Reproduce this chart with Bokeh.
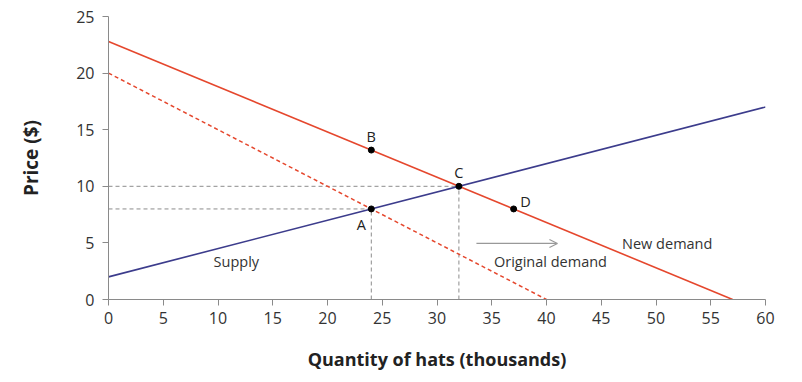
from bokeh.plotting import figure
from bokeh.models import Range1d, FixedTicker, Arrow, OpenHead, ColumnDataSource
from bokeh.core.properties import value
from bokeh.embed import file_html
from bokeh.resources import INLINE

# Data
supply_q = [0, 60]
supply_p = [2, 17]
orig_demand_q = [0, 40]
orig_demand_p = [20, 0]
new_demand_q = [0, 57]
new_demand_p = [22.8, 0]
point_names = ["A", "B", "C", "D"]
point_q = [24, 24, 32, 37]
point_p = [8, 13.2, 10, 8]
x_ticks = [0, 5, 10, 15, 20, 25, 30, 35, 40, 45, 50, 55, 60]
y_ticks = [0, 5, 10, 15, 20, 25]

FONT = "Open Sans"
p = figure(width=786, height=374, output_backend="svg", toolbar_location=None,
           x_range=Range1d(0, 60), y_range=Range1d(0, 25),
           min_border_left=108, min_border_right=21, min_border_top=16, min_border_bottom=75)
p.outline_line_color = None
p.xgrid.visible = False
p.ygrid.visible = False
p.background_fill_color = "white"
p.border_fill_color = "white"

for ax in (p.xaxis[0], p.yaxis[0]):
    ax.axis_line_color = "#8a8a8a"
    ax.major_tick_line_color = "#8a8a8a"
    ax.minor_tick_line_color = None
    ax.major_tick_in = 0
    ax.major_tick_out = 6
    ax.major_label_text_font = FONT
    ax.major_label_text_font_size = "16px"
    ax.major_label_text_color = "#333333"
    ax.axis_label_text_font = FONT
    ax.axis_label_text_font_style = "bold"
    ax.axis_label_text_color = "#222222"

p.xaxis.axis_label_text_font_size = "18px"
p.yaxis.axis_label_text_font_size = "19px"
p.xaxis.ticker = FixedTicker(ticks=x_ticks)
p.yaxis.ticker = FixedTicker(ticks=y_ticks)
p.xaxis.axis_label = "Quantity of hats (thousands)"
p.yaxis.axis_label = "Price ($)"
p.xaxis.axis_label_standoff = 20
p.yaxis.axis_label_standoff = 29
p.xaxis.major_label_standoff = 6
p.yaxis.major_label_standoff = 8

# Guide dashes
gc = "#8c8c8c"
A_q, A_p = point_q[0], point_p[0]
C_q, C_p = point_q[2], point_p[2]
p.line([0, C_q], [C_p, C_p], line_color=gc, line_dash="4 3", line_width=1)
p.line([0, A_q], [A_p, A_p], line_color=gc, line_dash="4 3", line_width=1)
p.line([A_q, A_q], [0, A_p], line_color=gc, line_dash="4 3", line_width=1)
p.line([C_q, C_q], [0, C_p], line_color=gc, line_dash="4 3", line_width=1)

# Curves
red = "#e5472d"
blue = "#3c3c8c"
p.line(orig_demand_q, orig_demand_p, line_color=red, line_dash="4 3", line_width=1.5)
p.line(new_demand_q, new_demand_p, line_color=red, line_width=1.6)
p.line(supply_q, supply_p, line_color=blue, line_width=1.6)

# Points
p.scatter(point_q, point_p, size=6, color="black")

# Point labels
lbl_src = ColumnDataSource(dict(
    x=[point_q[0] - 0.9, point_q[1], point_q[2], point_q[3] + 0.6],
    y=[point_p[0] - 1.4, point_p[1] + 1.2, point_p[2] + 1.2, point_p[3] + 0.7],
    t=point_names,
    align=["center", "center", "center", "left"],
))
p.text(x="x", y="y", text="t", source=lbl_src, text_font=value(FONT), text_font_size="14.5px",
       text_color="#222222", text_align="align", text_baseline="middle")

# Curve labels
p.text(x=[9.6], y=[3.36], text=["Supply"], text_font=value(FONT), text_font_size="14.5px",
       text_color="#333333", text_baseline="middle")
p.text(x=[46.9], y=[4.95], text=["New demand"], text_font=value(FONT), text_font_size="14.5px",
       text_color="#333333", text_baseline="middle")
p.text(x=[35.2], y=[3.36], text=["Original demand"], text_font=value(FONT), text_font_size="14.5px",
       text_color="#333333", text_baseline="middle")

p.add_layout(Arrow(end=OpenHead(size=8, line_color="#999999", line_width=1.2),
                   x_start=33.6, y_start=4.95, x_end=41.0, y_end=4.95,
                   line_color="#999999", line_width=1.2))

open("out.html", "w").write(file_html(p, INLINE))
